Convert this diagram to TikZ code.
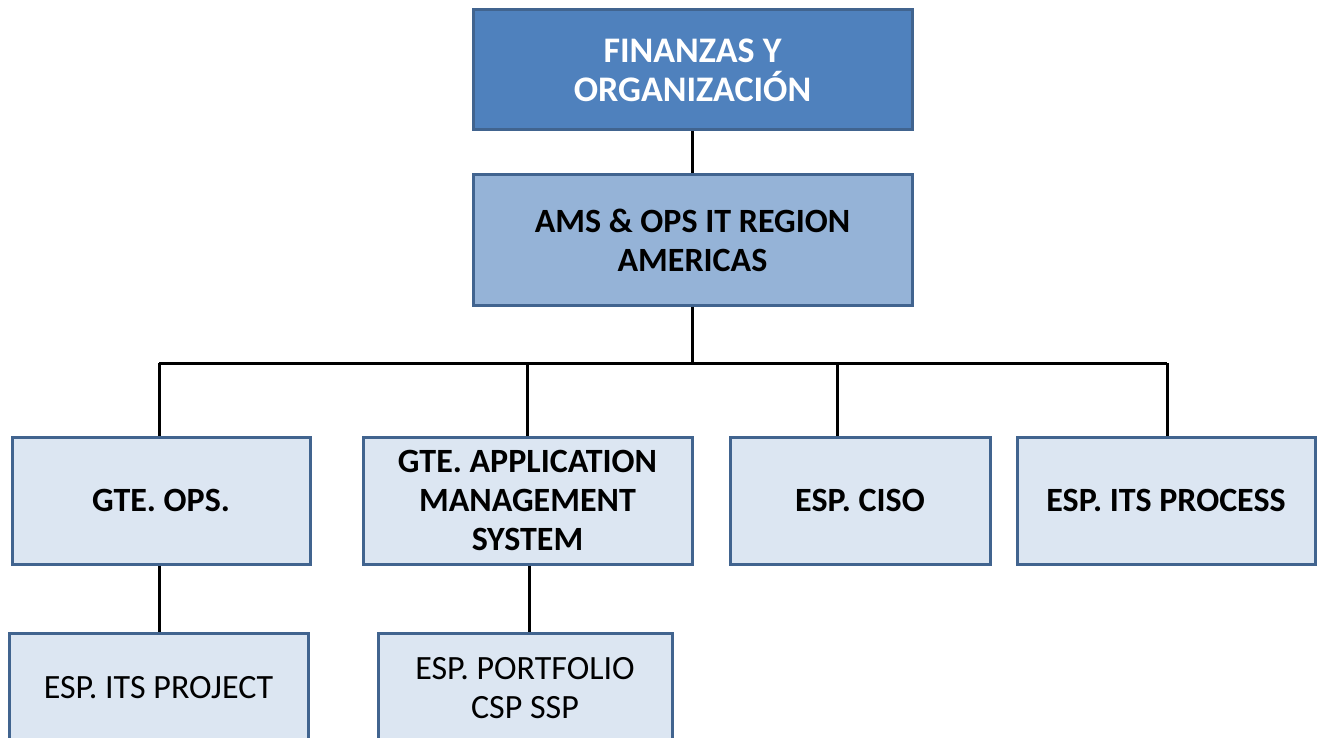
\documentclass[tikz,border=0pt]{standalone}
\usepackage{fontspec}
\setmainfont{Carlito}
\definecolor{darkfill}{HTML}{4F81BD}
\definecolor{midfill}{HTML}{95B3D7}
\definecolor{lightfill}{HTML}{DCE6F2}
\definecolor{edgeblue}{HTML}{41648F}
\begin{document}
\begin{tikzpicture}[x=1pt,y=-1pt,
  box/.style={draw=edgeblue,line width=3pt,align=center,inner sep=0pt,
    font=\fontsize{34}{39}\selectfont\bfseries},
  topbox/.style={box,fill=darkfill,text=white,font=\fontsize{36}{39}\selectfont\bfseries},
  midbox/.style={box,fill=midfill,text=black},
  lowbox/.style={box,fill=lightfill,text=black},
  leafbox/.style={box,fill=lightfill,text=black,font=\fontsize{34}{39}\selectfont},
  link/.style={line width=3pt,black}]
\useasboundingbox (0,0) rectangle (1317,738);
\fill[white] (0,0) rectangle (1317,738);
\coordinate (b1) at (159,363);
\coordinate (b2) at (527,363);
\coordinate (b3) at (837,363);
\coordinate (b4) at (1167,363);
\draw[link] (b1) -- (b4);
\node[topbox,minimum width=439pt,minimum height=120pt] (top) at (692.5,70) {FINANZAS Y\\ORGANIZACIÓN};
\node[midbox,minimum width=439pt,minimum height=130pt] (ams) at (692.5,240) {AMS \& OPS IT REGION\\AMERICAS};
\node[lowbox,minimum width=298pt,minimum height=127pt] (ops) at (161,500.5) {GTE. OPS.};
\node[lowbox,minimum width=329pt,minimum height=127pt] (app) at (527.5,500.5) {GTE. APPLICATION\\MANAGEMENT\\SYSTEM};
\node[lowbox,minimum width=260pt,minimum height=127pt] (ciso) at (860,500.5) {ESP. CISO};
\node[lowbox,minimum width=298pt,minimum height=127pt] (proc) at (1166,500.5) {ESP. ITS PROCESS};
\node[leafbox,minimum width=299pt,minimum height=110pt] (proj) at (158.5,688) {ESP. ITS PROJECT};
\node[leafbox,minimum width=294pt,minimum height=110pt] (port) at (525,688) {ESP. PORTFOLIO\\CSP SSP};
\draw[link] (top.south) -- (ams.north);
\draw[link] (ams.south) -- (ams.south |- b1);
\draw[link] (b1) -- (b1 |- ops.north);
\draw[link] (b2) -- (b2 |- app.north);
\draw[link] (b3) -- (b3 |- ciso.north);
\draw[link] (b4) -- (b4 |- proc.north);
\draw[link] (b1 |- ops.south) -- (b1 |- proj.north);
\coordinate (c2) at (529,600);
\draw[link] (c2 |- app.south) -- (c2 |- port.north);
\end{tikzpicture}
\end{document}
